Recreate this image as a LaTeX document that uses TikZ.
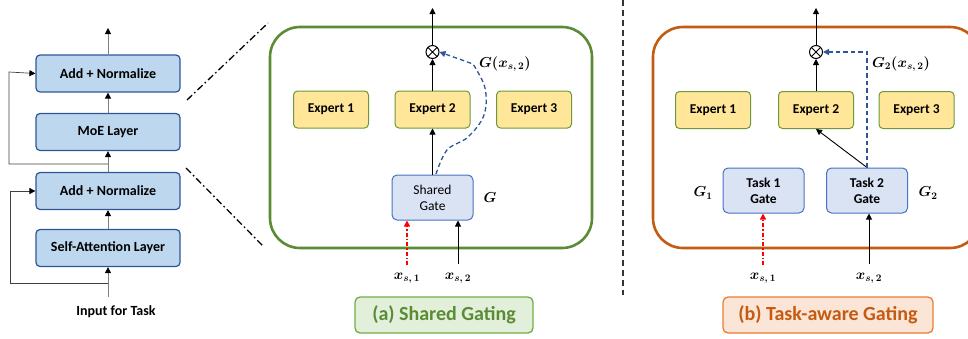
\documentclass[tikz,border=0pt]{standalone}
\usepackage{bm}
\usepackage{fontspec}
\newfontfamily\carfont{Carlito}
\usetikzlibrary{arrows.meta}
\definecolor{lblue}{HTML}{BDD7EE}
\definecolor{dblue}{HTML}{2F5597}
\definecolor{gfill}{HTML}{DAE3F3}
\definecolor{gdraw}{HTML}{4472C4}
\definecolor{efill}{HTML}{FFE699}
\definecolor{edraw}{HTML}{6A9A3A}
\definecolor{ggreen}{HTML}{5B8C35}
\definecolor{lgreen}{HTML}{E2EFDA}
\definecolor{mgreen}{HTML}{70AD47}
\definecolor{orng}{HTML}{C55A11}
\definecolor{lorng}{HTML}{FBE5D6}
\definecolor{morng}{HTML}{ED7D31}
\definecolor{dashblue}{HTML}{2F5597}
\definecolor{bred}{HTML}{FF0000}
\tikzset{
  layer/.style={draw=dblue, line width=1.2pt, fill=lblue, rounded corners=4pt, minimum width=144pt, minimum height=37pt, inner sep=0pt, font=\carfont\bfseries\fontsize{14}{16}\selectfont},
  expert/.style={draw=edraw, line width=1pt, fill=efill, rounded corners=4pt, minimum width=75pt, minimum height=37pt, inner sep=0pt, font=\carfont\bfseries\fontsize{13.5}{15}\selectfont},
  gate/.style={draw=gdraw, line width=1pt, fill=gfill, rounded corners=5pt, minimum width=81pt, minimum height=45pt, inner sep=0pt, align=center, font=\carfont\bfseries\fontsize{13.5}{16}\selectfont},
  arr/.style={-{Triangle[length=6pt,width=6pt]}, line width=0.9pt},
  garr/.style={-{Triangle[length=6pt,width=6pt,color=black]}, draw=gray, line width=0.9pt},
  rarr/.style={-{Triangle[length=6pt,width=6pt,color=black]}, draw=black!75, line width=0.7pt},
  redarr/.style={-{Triangle[length=6pt,width=6pt,color=bred]}, draw=bred, dash pattern=on 4pt off 2pt on 1.5pt off 2pt, line width=1.4pt},
  bluearr/.style={-{Triangle[length=6pt,width=6pt,color=dashblue]}, draw=dashblue, dash pattern=on 4.5pt off 3pt, line width=1.3pt},
  otim/.style={circle, draw, line width=1pt, minimum size=13pt, inner sep=0pt, path picture={\draw[line width=0.9pt] (path picture bounding box.north west)--(path picture bounding box.south east) (path picture bounding box.north east)--(path picture bounding box.south west);}},
  mlab/.style={font=\boldmath\fontsize{14}{16}\selectfont, inner sep=1pt},
  caption/.style={rounded corners=5pt, line width=1.3pt, minimum height=36pt, inner sep=0pt, font=\carfont\bfseries\fontsize{20}{24}\selectfont},
  ddot/.style={line width=1.3pt, dash pattern=on 7pt off 3pt on 1.5pt off 3pt}
}
\begin{document}
\begin{tikzpicture}[x=1pt,y=-1pt]
\useasboundingbox (0,0) rectangle (968,338);
% ---------- left column ----------
\node[layer] (an1) at (108,73.5) {Add + Normalize};
\node[layer] (moe) at (108,132) {MoE Layer};
\node[layer] (an2) at (108,191) {Add + Normalize};
\node[layer] (sa) at (108,248) {Self-Attention Layer};
\node[font=\carfont\bfseries\fontsize{14}{16}\selectfont] (inp) at (116,312) {Input for Task};
\coordinate (top) at (108,28);
\coordinate (inb) at (108,297);
\coordinate (r1) at (108,283);
\coordinate (r2) at (108,164);
\draw[garr] (inb) -- (sa.south);
\draw[garr] (sa.north) -- (an2.south);
\draw[garr] (an2.north) -- (moe.south);
\draw[garr] (moe.north) -- (an1.south);
\draw[garr] (an1.north) -- (top);
\draw[rarr] (r1) -| (10,191) -- (an2.west);
\draw[rarr] (r2) -| (9,72) -- (an1.west);
% zoom lines
\coordinate (z1a) at (187,100); \coordinate (z1b) at (268,23);
\coordinate (z2a) at (186,168); \coordinate (z2b) at (264,247);
\draw[ddot] (z1a) -- (z1b);
\draw[ddot] (z2a) -- (z2b);
% ---------- (a) ----------
\draw[ggreen, line width=2.6pt, rounded corners=30pt] (270,27) rectangle (592,248);
\node[expert] (a1) at (331,109.5) {Expert 1};
\node[expert] (a2) at (432.5,109.5) {Expert 2};
\node[expert] (a3) at (534,109.5) {Expert 3};
\node[otim] (ao) at (432.5,52) {};
\coordinate (atop) at (432.5,8);
\node[gate, font=\carfont\fontsize{13.5}{16}\selectfont] (sg) at (432.5,197.5) {Shared\\Gate};
\draw[arr] (ao.north) -- (atop);
\draw[arr] (a2.north) -- (ao.south);
\draw[arr] (sg.north) -- (a2.south);
\draw[bluearr] plot[smooth, tension=0.6] coordinates {(436,174) (447,150) (468,137) (484,115) (485,88) (473,64)} -- (ao.east);
\node[mlab, anchor=west] (ag) at (478,64) {$G(x_{s,\,2})$};
\node[mlab] (aG) at (490,198) {$G$};
\node[mlab] (ax1) at (407,278) {$x_{s,\,1}$};
\node[mlab] (ax2) at (458,278) {$x_{s,\,2}$};
\draw[redarr] (407,265) -- (sg.south -| ax1);
\draw[arr] (458,264) -- (sg.south -| ax2);
\node[caption, draw=mgreen, fill=lgreen, text=ggreen, minimum width=178pt] (capa) at (444,315) {(a) Shared Gating};
% divider
\draw[black!80, line width=1.2pt, dash pattern=on 6pt off 4pt] (623,0) -- (623,295);
% ---------- (b) ----------
\draw[orng, line width=2.6pt, rounded corners=30pt] (653,27) rectangle (980,248);
\node[expert] (b1) at (713,110) {Expert 1};
\node[expert] (b2) at (816,110) {Expert 2};
\node[expert] (b3) at (916.5,110) {Expert 3};
\node[otim] (bo) at (816,52) {};
\coordinate (btop) at (816,8);
\node[gate] (t1) at (763.5,190.5) {Task 1\\Gate};
\node[gate] (t2) at (867,190.5) {Task 2\\Gate};
\draw[arr] (bo.north) -- (btop);
\draw[arr] (b2.north) -- (bo.south);
\draw[arr] (t2.north) -- (b2.south);
\draw[bluearr] (t2.north) -- (t2.north |- bo.east) -- (bo.east);
\node[mlab, anchor=west] (bg) at (871,64) {$G_2(x_{s,\,2})$};
\node[mlab] (bG1) at (703,193) {$G_1$};
\node[mlab] (bG2) at (928,193) {$G_2$};
\node[mlab] (bx1) at (763,278) {$x_{s,\,1}$};
\node[mlab] (bx2) at (869,278) {$x_{s,\,2}$};
\draw[redarr] (763,265) -- (t1.south -| bx1);
\draw[arr] (869,264) -- (t2.south -| bx2);
\node[caption, draw=morng, fill=lorng, text=orng, minimum width=210pt] (capb) at (828,315) {(b) Task-aware Gating};
\end{tikzpicture}
\end{document}
